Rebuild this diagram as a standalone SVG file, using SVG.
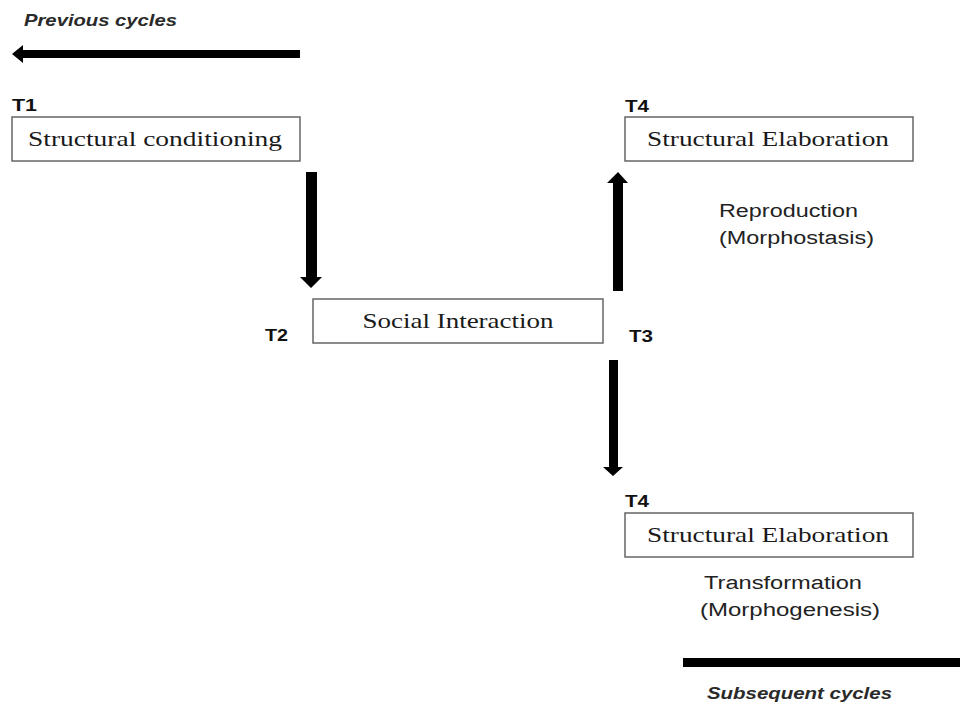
<svg xmlns="http://www.w3.org/2000/svg" width="960" height="704" viewBox="0 0 960 704">
<style>
.box{fill:#fff;stroke:#666;stroke-width:1.5}
.lbl{font-family:"Liberation Serif","DejaVu Serif",serif;font-size:21px;fill:#1a1a1a;text-anchor:middle}
.t{font-family:"Liberation Sans",Arial,sans-serif;font-size:16px;font-weight:bold;fill:#111}
.note{font-family:"Liberation Sans",Arial,sans-serif;font-size:18px;fill:#222}
.cyc{font-family:"Liberation Sans",Arial,sans-serif;font-size:17px;font-style:italic;font-weight:bold;fill:#2a2a2a}
.shaft{fill:#000}
</style>
<rect width="960" height="704" fill="#fff"/>
<g id="connectors">
  <path class="shaft" d="M300 50 L23 50 L23 45 L12 54 L23 63 L23 58 L300 58 Z"/>
  <path class="shaft" d="M306 172 L317 172 L317 277 L322 277 L311 288 L300 277 L306 277 Z"/>
  <path class="shaft" d="M613 291 L623 291 L623 183 L628 183 L618 172 L607 183 L613 183 Z"/>
  <path class="shaft" d="M609 360 L618 360 L618 467 L623 467 L613 476 L603 467 L609 467 Z"/>
  <rect class="shaft" x="683" y="658" width="277" height="9"/>
</g>
<g id="prev-label"><text class="cyc" x="24" y="26" textLength="153" lengthAdjust="spacingAndGlyphs">Previous cycles</text></g>
<g id="n-t1">
  <text class="t" x="12" y="111" textLength="25" lengthAdjust="spacingAndGlyphs">T1</text>
  <rect class="box" x="12" y="117" width="288" height="44"/>
  <text class="lbl" x="155" y="146" textLength="254" lengthAdjust="spacingAndGlyphs">Structural conditioning</text>
</g>
<g id="n-t4a">
  <text class="t" x="625" y="112" textLength="24" lengthAdjust="spacingAndGlyphs">T4</text>
  <rect class="box" x="625" y="117" width="288" height="44"/>
  <text class="lbl" x="768" y="146" textLength="242" lengthAdjust="spacingAndGlyphs">Structural Elaboration</text>
  <text class="note" x="719" y="217" textLength="139" lengthAdjust="spacingAndGlyphs">Reproduction</text>
  <text class="note" x="719" y="244" textLength="155" lengthAdjust="spacingAndGlyphs">(Morphostasis)</text>
</g>
<g id="n-t2">
  <text class="t" x="265" y="341" textLength="23" lengthAdjust="spacingAndGlyphs">T2</text>
  <rect class="box" x="313" y="299" width="290" height="44"/>
  <text class="lbl" x="458" y="328" textLength="191" lengthAdjust="spacingAndGlyphs">Social Interaction</text>
  <text class="t" x="629" y="342" textLength="24" lengthAdjust="spacingAndGlyphs">T3</text>
</g>
<g id="n-t4b">
  <text class="t" x="625" y="507" textLength="24" lengthAdjust="spacingAndGlyphs">T4</text>
  <rect class="box" x="625" y="513" width="288" height="44"/>
  <text class="lbl" x="768" y="542" textLength="242" lengthAdjust="spacingAndGlyphs">Structural Elaboration</text>
  <text class="note" x="704" y="589" textLength="158" lengthAdjust="spacingAndGlyphs">Transformation</text>
  <text class="note" x="700" y="616" textLength="180" lengthAdjust="spacingAndGlyphs">(Morphogenesis)</text>
</g>
<g id="next-label"><text class="cyc" x="707" y="699" textLength="185" lengthAdjust="spacingAndGlyphs">Subsequent cycles</text></g>
</svg>
